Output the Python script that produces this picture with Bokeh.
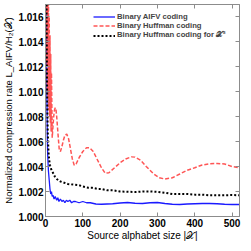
from bokeh.plotting import figure
from bokeh.models import LinearAxis, FixedTicker, NumeralTickFormatter, Range1d, Legend, LegendItem
from bokeh.embed import file_html
from bokeh.resources import INLINE

# Binary AIFV coding
aifv_x = [1, 2, 3, 4, 5, 6, 8, 10, 12, 14, 16, 18, 20, 23, 26, 30, 33, 36, 40, 44, 48, 52, 56, 60, 65, 70, 75, 80, 90, 100,
          110, 120, 135, 150, 165, 180, 200, 220, 240, 260, 280, 300, 320, 340, 360, 380, 400, 420, 440, 460, 480, 500, 520]
aifv_y = [1.040, 1.025, 1.014, 1.009, 1.006, 1.0048, 1.0036, 1.0029, 1.0022, 1.0018, 1.0020, 1.0016, 1.0017, 1.0014, 1.0016,
          1.0013, 1.0015, 1.0012, 1.0014, 1.0012, 1.0013, 1.0011, 1.0013, 1.0012, 1.0013, 1.0011, 1.0012, 1.0012, 1.0011, 1.0012,
          1.0011, 1.0011, 1.0010, 1.00098, 1.0010, 1.00102, 1.00108, 1.00112, 1.00106, 1.00104, 1.0011, 1.00112, 1.00104, 1.00098,
          1.00096, 1.001, 1.00102, 1.00104, 1.00104, 1.00102, 1.00098, 1.00096, 1.00096]

# Binary Huffman coding
huff_x = [1, 2, 3, 4, 5, 6, 7, 8, 9, 10, 11, 12, 13, 14, 15, 16, 18, 20, 22, 24, 26, 28, 30, 33, 37, 40, 44, 48, 52, 57,
          62, 67, 72, 77, 82, 90, 100, 110, 118, 128, 138, 150, 160, 170, 185, 200, 215, 230, 240, 255, 270, 290, 305, 320,
          340, 360, 380, 400, 420, 440, 460, 480, 500, 520]
huff_y = [1.040, 1.030, 1.012, 1.026, 1.010, 1.021, 1.0095, 1.018, 1.0085, 1.016, 1.008, 1.0145, 1.0075, 1.013, 1.0068, 1.0115,
          1.0063, 1.0072, 1.0080, 1.0085, 1.0087, 1.0086, 1.0080, 1.0068, 1.0053, 1.0052, 1.0056, 1.0061, 1.0065, 1.0066,
          1.0062, 1.0054, 1.0046, 1.0041, 1.0042, 1.0047, 1.0052, 1.0055, 1.0055, 1.0052, 1.0046, 1.0039, 1.00346, 1.0035,
          1.0039, 1.0043, 1.0046, 1.00477, 1.00475, 1.0045, 1.0040, 1.0034, 1.0031, 1.0030, 1.0031, 1.0034, 1.0037, 1.0039,
          1.00412, 1.00422, 1.00424, 1.0042, 1.0040, 1.0039]

# Binary Huffman coding for X^2
h2_x = [1, 2, 3, 4, 5, 6, 8, 10, 12, 15, 20, 25, 30, 40, 50, 60, 75, 90, 100, 115, 125, 140, 150, 165, 180, 200, 220, 240,
        260, 280, 300, 320, 340, 360, 380, 400, 420, 440, 460, 480, 500, 520]
h2_y = [1.040, 1.026, 1.016, 1.011, 1.0085, 1.0068, 1.0052, 1.0045, 1.0041, 1.0038, 1.0035, 1.0032, 1.0030, 1.0028, 1.0027,
        1.0026, 1.00255, 1.0025, 1.0024, 1.0023, 1.0023, 1.0022, 1.0022, 1.0021, 1.0021, 1.0020, 1.00198, 1.00196, 1.002,
        1.002, 1.00198, 1.0019, 1.0018, 1.0018, 1.0018, 1.00175, 1.00175, 1.0017, 1.0017, 1.0017, 1.00172, 1.0017]

x_ticks = [0, 100, 200, 300, 400, 500]
y_ticks = [1.000, 1.002, 1.004, 1.006, 1.008, 1.010, 1.012, 1.014, 1.016]

FONT = "Liberation Sans"
GRAY = "#8c8c8c"

p = figure(width=243, height=243, output_backend="svg", toolbar_location=None,
           x_range=Range1d(0, 520), y_range=Range1d(1.0, 1.01696),
           min_border_left=0, min_border_right=4, min_border_top=4, min_border_bottom=0)
p.background_fill_color = "white"
p.border_fill_color = "white"
p.outline_line_color = GRAY
p.grid.visible = False

r_blue = p.line(aifv_x, aifv_y, line_color="#1a1aff", line_width=1.3)
r_red = p.line(huff_x, huff_y, line_color="#ff5555", line_width=1.5, line_dash="4 2")
r_black = p.line(h2_x, h2_y, line_color="black", line_width=2, line_dash="2 2")

def style(ax, ticks, fmt, labels=True):
    ax.ticker = FixedTicker(ticks=ticks)
    ax.formatter = NumeralTickFormatter(format=fmt)
    ax.axis_line_color = GRAY
    ax.major_tick_line_color = GRAY
    ax.major_tick_in = 4
    ax.major_tick_out = 0
    ax.minor_tick_line_color = None
    ax.major_label_text_font = FONT
    ax.major_label_text_font_style = "bold"
    ax.major_label_text_font_size = "10px" if labels else "0px"
    ax.major_label_text_color = "black"
    ax.major_label_standoff = 2 if labels else 0
    ax.axis_label_text_font = FONT
    ax.axis_label_text_font_style = "normal"
    ax.axis_label_text_font_size = "10px"
    ax.axis_label_text_color = "black"
    ax.axis_label_standoff = 1

style(p.xaxis[0], x_ticks, "0")
style(p.yaxis[0], y_ticks, "0.000")
p.xaxis[0].axis_label = "Source alphabet size |𝒳|"
p.xaxis[0].axis_label_standoff = 0
p.yaxis[0].axis_label = "Normalized compression rate L_AIFV/H₂(𝒳)"
p.yaxis[0].axis_label_text_font_size = "9.5px"

top = LinearAxis()
style(top, x_ticks, "0", labels=False)
top.major_label_text_color = None
p.add_layout(top, "above")
right = LinearAxis()
style(right, y_ticks, "0.000", labels=False)
right.major_label_text_color = None
p.add_layout(right, "right")

legend = Legend(items=[
    LegendItem(label="Binary AIFV coding", renderers=[r_blue]),
    LegendItem(label="Binary Huffman coding", renderers=[r_red]),
    LegendItem(label="Binary Huffman coding for 𝒳²", renderers=[r_black]),
], location=(48, 176))
legend.border_line_color = None
legend.background_fill_alpha = 0
legend.padding = 0
legend.margin = 0
legend.spacing = 0
legend.glyph_width = 22
legend.glyph_height = 7
legend.label_height = 7
legend.label_standoff = 2
legend.label_text_font = FONT
legend.label_text_font_style = "bold"
legend.label_text_font_size = "7.7px"
legend.label_text_baseline = "middle"
p.add_layout(legend, "center")

open("out.html", "w").write(file_html(p, INLINE))
